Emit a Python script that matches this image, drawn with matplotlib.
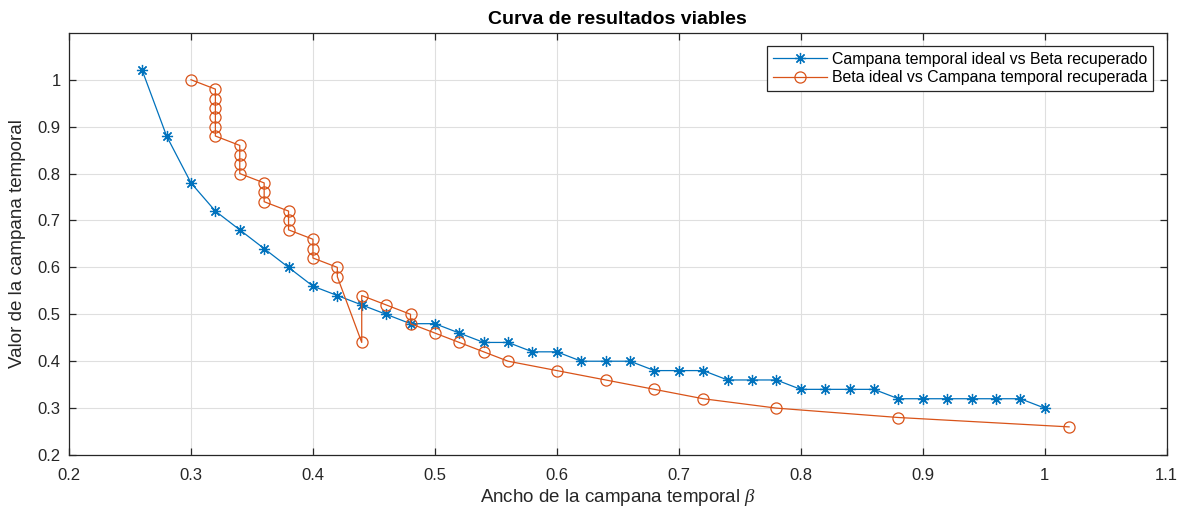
import numpy as np
import matplotlib.pyplot as plt

plt.rcParams['font.family'] = ['Liberation Sans', 'DejaVu Sans']
plt.rcParams['mathtext.fontset'] = 'custom'
plt.rcParams['mathtext.it'] = 'Liberation Serif:italic'

# Campana temporal ideal vs Beta recuperado
beta_rec = [0.26, 0.28, 0.30, 0.32, 0.34, 0.36, 0.38, 0.40, 0.42, 0.44,
            0.46, 0.48, 0.50, 0.52, 0.54, 0.56, 0.58, 0.60, 0.62, 0.64,
            0.66, 0.68, 0.70, 0.72, 0.74, 0.76, 0.78, 0.80, 0.82, 0.84,
            0.86, 0.88, 0.90, 0.92, 0.94, 0.96, 0.98, 1.00]
campana_ideal = [1.02, 0.88, 0.78, 0.72, 0.68, 0.64, 0.60, 0.56, 0.54, 0.52,
                 0.50, 0.48, 0.48, 0.46, 0.44, 0.44, 0.42, 0.42, 0.40, 0.40,
                 0.40, 0.38, 0.38, 0.38, 0.36, 0.36, 0.36, 0.34, 0.34, 0.34,
                 0.34, 0.32, 0.32, 0.32, 0.32, 0.32, 0.32, 0.30]

# Beta ideal vs Campana temporal recuperada
beta_ideal = [0.30, 0.32, 0.32, 0.32, 0.32, 0.32, 0.32, 0.34, 0.34, 0.34,
              0.34, 0.36, 0.36, 0.36, 0.38, 0.38, 0.38, 0.40, 0.40, 0.40,
              0.42, 0.42, 0.44, 0.44, 0.46, 0.48, 0.48, 0.50, 0.52, 0.54,
              0.56, 0.60, 0.64, 0.68, 0.72, 0.78, 0.88, 1.02]
campana_rec = [1.00, 0.98, 0.96, 0.94, 0.92, 0.90, 0.88, 0.86, 0.84, 0.82,
               0.80, 0.78, 0.76, 0.74, 0.72, 0.70, 0.68, 0.66, 0.64, 0.62,
               0.60, 0.58, 0.44, 0.54, 0.52, 0.50, 0.48, 0.46, 0.44, 0.42,
               0.40, 0.38, 0.36, 0.34, 0.32, 0.30, 0.28, 0.26]

axis_col = '#262626'
asterisk = (8, 2, 0)

fig = plt.figure(figsize=(11.86, 5.13), dpi=100)
ax = fig.add_axes([0.0582, 0.113, 0.9255, 0.823])

ax.plot(beta_rec, campana_ideal, '-', marker=asterisk, color='#0072BD', lw=0.9,
        markersize=8, markeredgewidth=0.9,
        label='Campana temporal ideal vs Beta recuperado')
ax.plot(beta_ideal, campana_rec, '-o', color='#D95319', lw=0.9,
        markersize=8, markerfacecolor='none', markeredgewidth=0.9,
        label='Beta ideal vs Campana temporal recuperada')

ax.set_xlim(0.2, 1.1)
ax.set_ylim(0.2, 1.1)
ax.set_xticks(np.arange(0.2, 1.11, 0.1))
ax.set_yticks(np.arange(0.2, 1.01, 0.1))
ax.set_xticklabels(['0.2', '0.3', '0.4', '0.5', '0.6', '0.7', '0.8', '0.9', '1', '1.1'])
ax.set_yticklabels(['0.2', '0.3', '0.4', '0.5', '0.6', '0.7', '0.8', '0.9', '1'])

ax.grid(True, color='#dfdfdf', lw=0.8)
ax.set_axisbelow(True)
for s in ax.spines.values():
    s.set_color(axis_col)
    s.set_linewidth(0.9)
ax.tick_params(direction='in', top=True, right=True, length=5, width=0.9,
               colors=axis_col, labelsize=12, labelcolor=axis_col)
ax.tick_params(axis='x', pad=9)
ax.tick_params(axis='y', pad=6)

ax.set_title('Curva de resultados viables', fontsize=14, fontweight='bold',
             color='black', pad=6)
ax.set_xlabel(r'Ancho de la campana temporal $\beta$', fontsize=13.5,
              color=axis_col, labelpad=3)
ax.set_ylabel('Valor de la campana temporal', fontsize=13.5, color=axis_col,
              labelpad=8)

leg = ax.legend(loc='upper right', fontsize=11.4, fancybox=False, framealpha=1,
                edgecolor=axis_col, borderpad=0.35, handlelength=3.4,
                handletextpad=0.35, labelspacing=0.22, borderaxespad=0.85)
leg.get_frame().set_linewidth(0.9)

fig.savefig('out.png', dpi=100)
